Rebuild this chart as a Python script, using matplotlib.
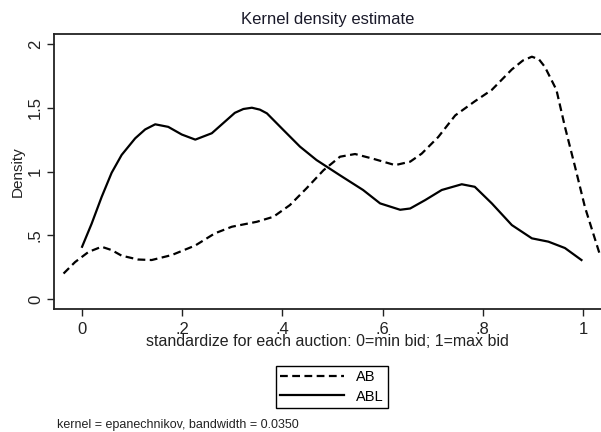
import matplotlib.pyplot as plt

plt.rcParams['font.family'] = ['Liberation Sans', 'DejaVu Sans']

# AB density (dashed)
ab_x = [-0.037, -0.014, 0.013, 0.039, 0.059, 0.079, 0.112, 0.139, 0.179, 0.226,
        0.265, 0.299, 0.349, 0.382, 0.415, 0.448, 0.482, 0.515, 0.545, 0.581,
        0.625, 0.655, 0.678, 0.711, 0.745, 0.784, 0.818, 0.858, 0.880, 0.898,
        0.912, 0.924, 0.947, 0.964, 0.984, 1.004, 1.034]
ab_y = [0.20, 0.29, 0.37, 0.41, 0.384, 0.34, 0.31, 0.306, 0.345, 0.42,
        0.515, 0.567, 0.606, 0.645, 0.737, 0.868, 1.01, 1.116, 1.137, 1.10,
        1.05, 1.077, 1.14, 1.27, 1.44, 1.55, 1.64, 1.80, 1.87, 1.90,
        1.88, 1.82, 1.64, 1.35, 1.04, 0.72, 0.345]

# ABL density (solid)
abl_x = [0.0, 0.019, 0.039, 0.059, 0.079, 0.106, 0.126, 0.146, 0.172, 0.199,
         0.226, 0.259, 0.305, 0.322, 0.339, 0.355, 0.369, 0.402, 0.435, 0.468,
         0.515, 0.561, 0.595, 0.635, 0.655, 0.685, 0.718, 0.758, 0.784, 0.818,
         0.858, 0.898, 0.931, 0.964, 0.997]
abl_y = [0.41, 0.59, 0.80, 0.99, 1.13, 1.26, 1.33, 1.37, 1.35, 1.29,
         1.25, 1.30, 1.46, 1.49, 1.50, 1.485, 1.456, 1.325, 1.195, 1.09,
         0.97, 0.855, 0.75, 0.70, 0.71, 0.776, 0.855, 0.90, 0.88, 0.75,
         0.58, 0.476, 0.45, 0.40, 0.306]

xticks = [0, 0.2, 0.4, 0.6, 0.8, 1.0]
xtick_labels = ['0', '.2', '.4', '.6', '.8', '1']
yticks = [0, 0.5, 1.0, 1.5, 2.0]
ytick_labels = ['0', '.5', '1', '1.5', '2']

fig = plt.figure(figsize=(6.01, 4.32), dpi=100)
ax = fig.add_axes([0.0899, 0.2847, 0.9101, 0.6366])

ax.plot(ab_x, ab_y, color='black', lw=1.6, dashes=[3.5, 2], label='AB')
ax.plot(abl_x, abl_y, color='black', lw=1.6, label='ABL')

ax.set_xlim(-0.056, 1.036)
ax.set_ylim(-0.078, 2.078)
ax.spines['right'].set_visible(False)
for s in ['left', 'bottom', 'top']:
    ax.spines[s].set_linewidth(1.3)
    ax.spines[s].set_color('#222222')

ax.set_xticks(xticks)
ax.set_xticklabels(xtick_labels)
ax.set_yticks(yticks)
ax.set_yticklabels(ytick_labels, rotation=90, va='center')
ax.tick_params(direction='out', length=5, width=1, labelsize=12, colors='#222222')
ax.tick_params(axis='x', pad=4)
ax.tick_params(axis='y', pad=3)

ax.set_xlabel('standardize for each auction: 0=min bid; 1=max bid', fontsize=11.5,
              labelpad=-2, color='#222222')
ax.set_ylabel('Density', fontsize=11, labelpad=2, color='#222222')
ax.set_title('Kernel density estimate', fontsize=12, pad=7, color='#1a1a2a')

leg = fig.legend(loc='center', bbox_to_anchor=(332 / 601, 1 - 387 / 432),
                 fontsize=10.5, handlelength=4.4, fancybox=False, framealpha=1,
                 edgecolor='black', borderpad=0.3, labelspacing=0.35)
leg.get_frame().set_linewidth(1.0)

fig.text(57 / 601, 1 - 425 / 432, 'kernel = epanechnikov, bandwidth = 0.0350',
         fontsize=9, va='center', ha='left', color='#222222')

fig.savefig('out.png', dpi=100)
